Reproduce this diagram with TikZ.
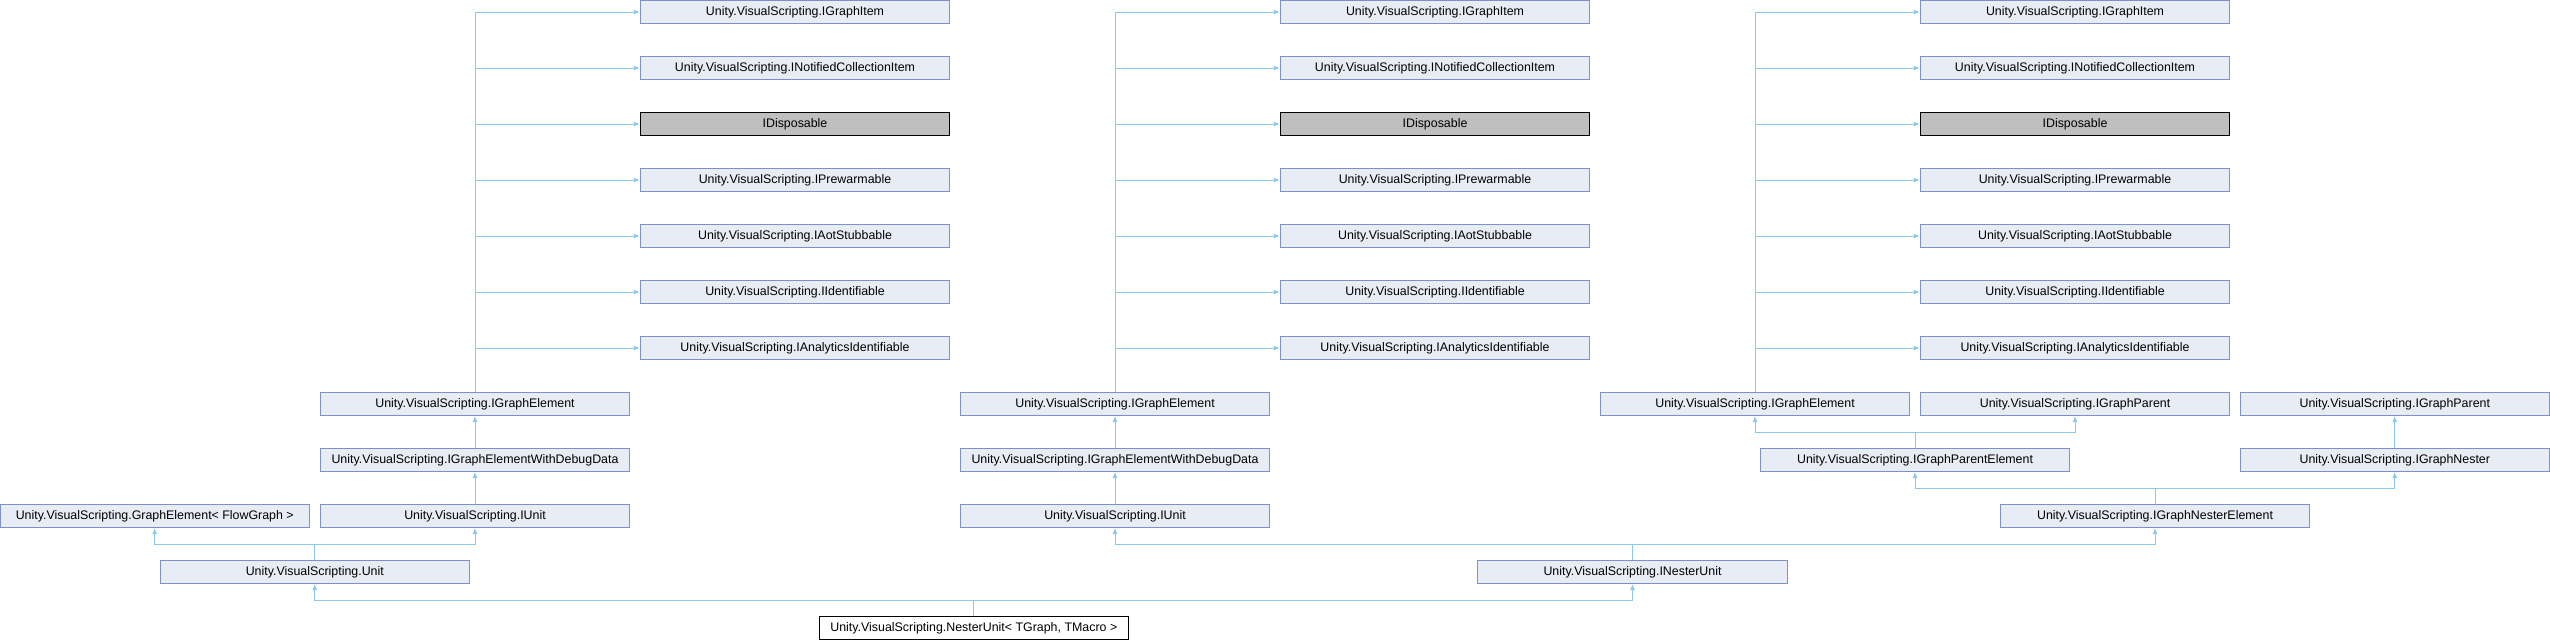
\documentclass[tikz,border=0pt]{standalone}
\usepackage{fontspec}
\setmainfont{Liberation Sans}
\usepackage{tikz}
\usetikzlibrary{calc}
\usetikzlibrary{arrows.meta,positioning}
\tikzstyle{iface} = [rectangle, minimum width=309.5pt, minimum height=23pt, inner sep=1pt, text centered, draw=boxline, fill=boxfill, line width=1pt, font=\fontsize{12.4}{14}\selectfont]
\tikzstyle{extern} = [iface, draw=black, fill=extgray]
\tikzstyle{focus} = [iface, draw=black, fill=white]
\tikzstyle{line}=[draw, line width=1pt, color=edgeblue, -{Latex[length=6pt,width=5pt]}]
\definecolor{boxfill}{HTML}{E8ECF5}
\definecolor{boxline}{HTML}{7B92C8}
\definecolor{extgray}{HTML}{BFBFBF}
\definecolor{edgeblue}{HTML}{8DC9EB}

\begin{document}
\begin{tikzpicture}[x=1pt,y=-1pt,node distance=56pt]
  \useasboundingbox (0,0) rectangle (2550,640);
  % left column
  \node (itemA) [iface] at (795,12) {Unity.VisualScripting.IGraphItem};
  \node (notifA) [iface, below of=itemA] {Unity.VisualScripting.INotifiedCollectionItem};
  \node (dispA) [extern, below of=notifA] {IDisposable};
  \node (prewA) [iface, below of=dispA] {Unity.VisualScripting.IPrewarmable};
  \node (aotA) [iface, below of=prewA] {Unity.VisualScripting.IAotStubbable};
  \node (identA) [iface, below of=aotA] {Unity.VisualScripting.IIdentifiable};
  \node (analyA) [iface, below of=identA] {Unity.VisualScripting.IAnalyticsIdentifiable};
  \node (elemA) [iface] at (475,404) {Unity.VisualScripting.IGraphElement};
  \node (debugA) [iface, below of=elemA] {Unity.VisualScripting.IGraphElementWithDebugData};
  \node (iunitA) [iface, below of=debugA] {Unity.VisualScripting.IUnit};
  \node (flowel) [iface] at (154.75,516) {Unity.VisualScripting.GraphElement< FlowGraph >};
  \node (unit) [iface] at (314.8,572) {Unity.VisualScripting.Unit};
  \path [line] (elemA) |- (itemA);
  \path [line] (elemA) |- (notifA);
  \path [line] (elemA) |- (dispA);
  \path [line] (elemA) |- (prewA);
  \path [line] (elemA) |- (aotA);
  \path [line] (elemA) |- (identA);
  \path [line] (elemA) |- (analyA);
  \draw [line] (debugA) -- (elemA);
  \draw [line] (iunitA) -- (debugA);
  \path [line] (unit.north) -- ($(unit.north)+(0,-16)$) -| (flowel.south);
  \path [line] (unit.north) -- ($(unit.north)+(0,-16)$) -| (iunitA.south);

  % middle column
  \node (itemB) [iface] at (1435,12) {Unity.VisualScripting.IGraphItem};
  \node (notifB) [iface, below of=itemB] {Unity.VisualScripting.INotifiedCollectionItem};
  \node (dispB) [extern, below of=notifB] {IDisposable};
  \node (prewB) [iface, below of=dispB] {Unity.VisualScripting.IPrewarmable};
  \node (aotB) [iface, below of=prewB] {Unity.VisualScripting.IAotStubbable};
  \node (identB) [iface, below of=aotB] {Unity.VisualScripting.IIdentifiable};
  \node (analyB) [iface, below of=identB] {Unity.VisualScripting.IAnalyticsIdentifiable};
  \node (elemB) [iface] at (1115,404) {Unity.VisualScripting.IGraphElement};
  \node (debugB) [iface, below of=elemB] {Unity.VisualScripting.IGraphElementWithDebugData};
  \node (iunitB) [iface, below of=debugB] {Unity.VisualScripting.IUnit};
  \path [line] (elemB) |- (itemB);
  \path [line] (elemB) |- (notifB);
  \path [line] (elemB) |- (dispB);
  \path [line] (elemB) |- (prewB);
  \path [line] (elemB) |- (aotB);
  \path [line] (elemB) |- (identB);
  \path [line] (elemB) |- (analyB);
  \draw [line] (debugB) -- (elemB);
  \draw [line] (iunitB) -- (debugB);

  % right column
  \node (itemC) [iface] at (2075,12) {Unity.VisualScripting.IGraphItem};
  \node (notifC) [iface, below of=itemC] {Unity.VisualScripting.INotifiedCollectionItem};
  \node (dispC) [extern, below of=notifC] {IDisposable};
  \node (prewC) [iface, below of=dispC] {Unity.VisualScripting.IPrewarmable};
  \node (aotC) [iface, below of=prewC] {Unity.VisualScripting.IAotStubbable};
  \node (identC) [iface, below of=aotC] {Unity.VisualScripting.IIdentifiable};
  \node (analyC) [iface, below of=identC] {Unity.VisualScripting.IAnalyticsIdentifiable};
  \node (elemC) [iface] at (1755,404) {Unity.VisualScripting.IGraphElement};
  \node (parentC) [iface, below of=analyC] {Unity.VisualScripting.IGraphParent};
  \node (parentD) [iface] at (2394.75,404) {Unity.VisualScripting.IGraphParent};
  \node (parentel) [iface] at (1915,460) {Unity.VisualScripting.IGraphParentElement};
  \node (nesterif) [iface, below of=parentD] {Unity.VisualScripting.IGraphNester};
  \node (nesterel) [iface] at (2155,516) {Unity.VisualScripting.IGraphNesterElement};
  \node (inester) [iface] at (1632.5,572) {Unity.VisualScripting.INesterUnit};
  \path [line] (elemC) |- (itemC);
  \path [line] (elemC) |- (notifC);
  \path [line] (elemC) |- (dispC);
  \path [line] (elemC) |- (prewC);
  \path [line] (elemC) |- (aotC);
  \path [line] (elemC) |- (identC);
  \path [line] (elemC) |- (analyC);
  \path [line] (parentel.north) -- ($(parentel.north)+(0,-16)$) -| (elemC.south);
  \path [line] (parentel.north) -- ($(parentel.north)+(0,-16)$) -| (parentC.south);
  \draw [line] (nesterif) -- (parentD);
  \path [line] (nesterel.north) -- ($(nesterel.north)+(0,-16)$) -| (parentel.south);
  \path [line] (nesterel.north) -- ($(nesterel.north)+(0,-16)$) -| (nesterif.south);
  \path [line] (inester.north) -- ($(inester.north)+(0,-16)$) -| (iunitB.south);
  \path [line] (inester.north) -- ($(inester.north)+(0,-16)$) -| (nesterel.south);

  % bottom
  \node (nester) [focus] at (973.8,628) {Unity.VisualScripting.NesterUnit< TGraph, TMacro >};
  \path [line] (nester.north) -- ($(nester.north)+(0,-16)$) -| (unit.south);
  \path [line] (nester.north) -- ($(nester.north)+(0,-16)$) -| (inester.south);

\end{tikzpicture}
\end{document}
